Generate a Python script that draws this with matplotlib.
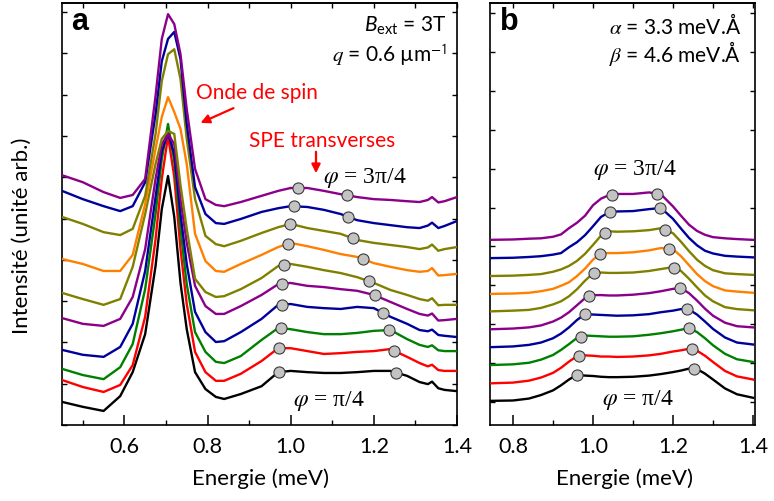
import numpy as np
import matplotlib
matplotlib.use("Agg")
import matplotlib.pyplot as plt
from matplotlib.ticker import MultipleLocator

plt.rcParams['font.family'] = ['Lato', 'DejaVu Sans']
plt.rcParams['mathtext.fontset'] = 'custom'
plt.rcParams['mathtext.rm'] = 'Lato'
plt.rcParams['mathtext.it'] = 'Lato:italic'
plt.rcParams['mathtext.bf'] = 'Lato:bold'

# ---------------- data ----------------
colors = ['#000000', '#ff0000', '#008000', '#00009c', '#8b008b',
          '#808000', '#ff8000', '#808000', '#00009c', '#8b008b']

# panel a: measured spectra (bottom phi = pi/4 ... top phi = 3pi/4), arb. units incl. offset
energy_a = [0.45, 0.50, 0.55, 0.59, 0.62, 0.65, 0.675, 0.69, 0.705, 0.72, 0.735, 0.75,
            0.77, 0.795, 0.82, 0.84, 0.88, 0.93, 0.97, 1.00, 1.04, 1.08, 1.12, 1.16,
            1.20, 1.24, 1.28, 1.31, 1.33, 1.34, 1.355, 1.37, 1.40]
spec_a_black = [0.56, 0.44, 0.34, 0.70, 1.28, 2.20, 3.85, 5.23, 6.03, 5.04, 3.44, 2.32,
                1.28, 0.87, 0.68, 0.63, 0.75, 0.94, 1.28, 1.31, 1.28, 1.26, 1.26, 1.28,
                1.31, 1.31, 1.19, 1.04, 0.99, 1.05, 0.89, 0.85, 0.82]
spec_a_red = [1.09, 0.92, 0.80, 0.97, 1.45, 2.62, 4.50, 5.96, 7.00, 6.01, 4.26, 2.93,
              1.77, 1.28, 1.07, 1.07, 1.24, 1.55, 1.86, 1.86, 1.79, 1.72, 1.74, 1.77,
              1.79, 1.84, 1.65, 1.50, 1.42, 1.46, 1.33, 1.31, 1.31]
spec_a_green = [1.36, 1.21, 1.11, 1.40, 1.96, 3.29, 5.11, 6.44, 7.29, 6.39, 4.75, 3.41,
                2.25, 1.77, 1.53, 1.50, 1.67, 2.06, 2.35, 2.32, 2.25, 2.20, 2.20, 2.23,
                2.28, 2.30, 2.08, 1.94, 1.89, 1.93, 1.81, 1.79, 1.79]
spec_a_blue = [1.82, 1.70, 1.65, 1.89, 2.45, 3.73, 5.52, 6.63, 7.07, 6.56, 5.11, 3.90,
               2.74, 2.25, 2.01, 2.03, 2.25, 2.57, 2.91, 2.93, 2.86, 2.83, 2.81, 2.86,
               2.83, 2.62, 2.45, 2.30, 2.27, 2.31, 2.18, 2.16, 2.13]
spec_a_purple = [2.59, 2.45, 2.40, 2.57, 3.10, 4.26, 5.96, 6.80, 7.05, 6.80, 5.47, 4.41,
                 3.37, 2.88, 2.69, 2.69, 2.88, 3.15, 3.41, 3.44, 3.37, 3.34, 3.29, 3.25,
                 3.15, 2.98, 2.81, 2.69, 2.65, 2.70, 2.53, 2.54, 2.57]
spec_a_olive = [3.20, 3.05, 2.91, 3.05, 3.83, 5.11, 6.32, 6.93, 7.12, 7.05, 5.81, 4.75,
                3.54, 3.22, 3.10, 3.12, 3.29, 3.56, 3.85, 3.90, 3.83, 3.75, 3.68, 3.58,
                3.44, 3.27, 3.15, 3.05, 3.01, 3.07, 2.90, 2.91, 2.91]
spec_a_orange = [4.02, 3.90, 3.73, 3.73, 4.12, 5.35, 6.68, 7.46, 7.94, 7.58, 7.17, 6.32,
                 4.63, 3.97, 3.73, 3.71, 3.90, 4.12, 4.31, 4.41, 4.33, 4.24, 4.14, 4.07,
                 3.92, 3.83, 3.75, 3.71, 3.73, 3.80, 3.62, 3.63, 3.66]
spec_a_olive2 = [5.04, 4.87, 4.67, 4.60, 4.75, 5.55, 7.05, 8.33, 8.98, 9.10, 8.38, 6.93,
                 5.47, 4.58, 4.38, 4.33, 4.46, 4.65, 4.79, 4.87, 4.77, 4.70, 4.63, 4.48,
                 4.41, 4.36, 4.31, 4.26, 4.30, 4.37, 4.22, 4.26, 4.31]
spec_a_blue2 = [5.67, 5.47, 5.30, 5.18, 5.30, 5.88, 7.53, 8.81, 9.35, 9.52, 8.86, 7.29,
                5.76, 5.11, 4.89, 4.87, 4.99, 5.16, 5.25, 5.30, 5.28, 5.21, 5.11, 4.96,
                4.89, 4.84, 4.79, 4.77, 4.83, 4.90, 4.77, 4.82, 4.94]
spec_a_purple2 = [6.05, 5.88, 5.64, 5.50, 5.57, 5.96, 7.97, 9.35, 9.95, 9.71, 8.98, 7.65,
                  6.20, 5.47, 5.33, 5.30, 5.40, 5.55, 5.67, 5.74, 5.74, 5.67, 5.59, 5.52,
                  5.47, 5.45, 5.42, 5.40, 5.45, 5.52, 5.39, 5.42, 5.52]
spectra_a = [spec_a_black, spec_a_red, spec_a_green, spec_a_blue, spec_a_purple,
             spec_a_olive, spec_a_orange, spec_a_olive2, spec_a_blue2, spec_a_purple2]
spe_low_a = [0.972, 0.972, 0.977, 0.979, 0.979, 0.984, 0.994, 0.998, 1.008, 1.018]
spe_high_a = [1.253, 1.248, 1.236, 1.222, 1.203, 1.188, 1.174, 1.150, 1.138, 1.135]

# panel b: calculated spectra
energy_b = [0.74, 0.80, 0.84, 0.87, 0.90, 0.92, 0.94, 0.96, 0.98, 1.00, 1.02, 1.04, 1.06,
            1.10, 1.14, 1.17, 1.20, 1.22, 1.24, 1.26, 1.28, 1.30, 1.33, 1.36, 1.40]
spec_b_black = [0.03, 0.04, 0.09, 0.18, 0.30, 0.43, 0.58, 0.70, 0.68, 0.67, 0.65, 0.64, 0.64,
                0.65, 0.68, 0.72, 0.77, 0.81, 0.86, 0.85, 0.73, 0.58, 0.35, 0.20, 0.11]
spec_b_red = [0.48, 0.50, 0.55, 0.63, 0.75, 0.88, 1.04, 1.18, 1.20, 1.19, 1.17, 1.17, 1.16,
              1.17, 1.20, 1.24, 1.30, 1.33, 1.37, 1.32, 1.19, 1.03, 0.80, 0.66, 0.58]
spec_b_green = [0.95, 0.97, 1.01, 1.09, 1.21, 1.34, 1.49, 1.65, 1.71, 1.70, 1.69, 1.68, 1.68,
                1.69, 1.73, 1.77, 1.82, 1.86, 1.90, 1.80, 1.64, 1.46, 1.24, 1.10, 1.03]
spec_b_blue = [1.41, 1.43, 1.47, 1.53, 1.64, 1.76, 1.92, 2.11, 2.26, 2.25, 2.24, 2.23, 2.22,
               2.23, 2.26, 2.31, 2.35, 2.39, 2.38, 2.25, 2.07, 1.88, 1.66, 1.53, 1.48]
spec_b_purple = [1.87, 1.89, 1.92, 1.97, 2.07, 2.17, 2.31, 2.49, 2.67, 2.75, 2.75, 2.74, 2.74,
                 2.76, 2.80, 2.85, 2.91, 2.93, 2.80, 2.61, 2.40, 2.22, 2.04, 1.95, 1.92]
spec_b_olive = [2.33, 2.35, 2.37, 2.42, 2.51, 2.59, 2.72, 2.90, 3.12, 3.31, 3.33, 3.32, 3.32,
                3.33, 3.37, 3.42, 3.47, 3.37, 3.17, 2.95, 2.74, 2.59, 2.44, 2.39, 2.36]
spec_b_orange = [2.78, 2.79, 2.81, 2.85, 2.91, 2.99, 3.08, 3.24, 3.43, 3.66, 3.83, 3.83, 3.83,
                 3.85, 3.90, 3.96, 3.93, 3.75, 3.52, 3.29, 3.11, 2.98, 2.87, 2.84, 2.81]
spec_b_olive2 = [3.24, 3.25, 3.27, 3.29, 3.35, 3.41, 3.50, 3.63, 3.81, 4.04, 4.28, 4.39, 4.38,
                 4.39, 4.42, 4.47, 4.34, 4.12, 3.88, 3.66, 3.50, 3.39, 3.31, 3.29, 3.27]
spec_b_blue2 = [3.70, 3.71, 3.73, 3.75, 3.79, 3.83, 3.98, 4.11, 4.29, 4.52, 4.76, 4.88, 4.90,
                4.91, 4.96, 4.99, 4.71, 4.46, 4.22, 4.03, 3.89, 3.82, 3.76, 3.74, 3.72]
spec_b_purple2 = [4.17, 4.18, 4.20, 4.21, 4.25, 4.31, 4.47, 4.61, 4.79, 5.06, 5.23, 5.32, 5.35,
                  5.35, 5.39, 5.34, 5.03, 4.79, 4.56, 4.40, 4.30, 4.24, 4.21, 4.19, 4.17]
spectra_b = [spec_b_black, spec_b_red, spec_b_green, spec_b_blue, spec_b_purple,
             spec_b_olive, spec_b_orange, spec_b_olive2, spec_b_blue2, spec_b_purple2]
spe_low_b = [0.959, 0.965, 0.970, 0.980, 0.991, 1.003, 1.017, 1.031, 1.042, 1.047]
spe_high_b = [1.252, 1.247, 1.241, 1.234, 1.217, 1.203, 1.190, 1.179, 1.167, 1.159]

xticks_a = [0.6, 0.8, 1.0, 1.2, 1.4]
xticks_b = [0.8, 1.0, 1.2, 1.4]

# ---------------- figure ----------------
W, H = 774, 502
fig = plt.figure(figsize=(W / 100, H / 100), dpi=100)
axA = fig.add_axes([62 / W, 76 / H, 395 / W, 422 / H])
axB = fig.add_axes([490 / W, 76 / H, 265 / W, 422 / H])

dot_kw = dict(linestyle='none', marker='o', ms=8, mfc='#c3c3c3', mec='#3a3a3a', mew=0.8, zorder=5)

for spec, c, xl, xh in zip(spectra_a, colors, spe_low_a, spe_high_a):
    axA.plot(energy_a, spec, color=c, lw=1.7, zorder=3)
    xs = [xl, xh]
    axA.plot(xs, np.interp(xs, energy_a, spec), **dot_kw)

for spec, c, xl, xh in zip(spectra_b, colors, spe_low_b, spe_high_b):
    axB.plot(energy_b, spec, color=c, lw=1.7, zorder=3)
    xs = [xl, xh]
    axB.plot(xs, np.interp(xs, energy_b, spec), **dot_kw)

axA.set_xlim(0.45, 1.40)
axA.set_ylim(0, 10.22)
axB.set_xlim(0.7425, 1.405)
axB.set_ylim(-0.59, 10.26)

for ax, xt in ((axA, xticks_a), (axB, xticks_b)):
    ax.set_xticks(xt)
    ax.xaxis.set_minor_locator(MultipleLocator(0.1))
    ax.yaxis.set_major_locator(MultipleLocator(1))
    ax.tick_params(axis='x', which='major', direction='in', length=7, width=1.1,
                   labelsize=15.5, pad=8, top=False)
    ax.tick_params(axis='x', which='minor', direction='in', length=3.5, width=1.0, top=False)
    ax.tick_params(axis='y', which='major', direction='in', length=3.5, width=1.0,
                   left=True, right=True, labelleft=False)
    ax.xaxis.set_major_formatter(matplotlib.ticker.FormatStrFormatter('%.1f'))
    for s in ax.spines.values():
        s.set_linewidth(1.2)
    sec = ax.secondary_xaxis('top')
    sec.xaxis.set_major_locator(MultipleLocator(0.1))
    sec.tick_params(axis='x', which='both', direction='in', length=3.5, width=1.0, labeltop=False)
    sec.spines['top'].set_linewidth(1.2)

def fa(px):
    return (px - 62) / 395

def fb(px):
    return (px - 490) / 265

def fy(py):
    return (426 - py) / 422

# panel a annotations
axA.text(fa(71), fy(22), 'a', transform=axA.transAxes, ha='left', va='center',
         fontsize=22, fontweight='bold', family=['Liberation Sans', 'DejaVu Sans'])
axA.text(fa(446), fy(26), r'$B_{\rm ext}$ = 3T', transform=axA.transAxes,
         ha='right', va='center', fontsize=15)
axA.text(fa(447), fy(55), r'$q$ = 0.6 µm$^{\mathsf{-1}}$', transform=axA.transAxes,
         ha='right', va='center', fontsize=15, math_fontfamily='stix')
axA.text(fa(196), fy(93), 'Onde de spin', transform=axA.transAxes, ha='left', va='center',
         fontsize=15, color='red')
axA.annotate('', xy=(fa(198), fy(125)), xytext=(fa(236), fy(108)),
             xycoords='axes fraction', textcoords='axes fraction',
             arrowprops=dict(arrowstyle='-|>', color='red', lw=1.6, mutation_scale=13))
axA.text(fa(249), fy(141), 'SPE transverses', transform=axA.transAxes, ha='left',
         va='center', fontsize=15, color='red')
axA.annotate('', xy=(fa(316), fy(177)), xytext=(fa(316), fy(150)),
             xycoords='axes fraction', textcoords='axes fraction',
             arrowprops=dict(arrowstyle='-|>', color='red', lw=1.6, mutation_scale=13))
axA.text(fa(323), fy(178), r'$\varphi$ = 3π/4', transform=axA.transAxes, ha='left',
         va='center', fontsize=17, family=['Liberation Serif', 'DejaVu Serif'],
         math_fontfamily='stix')
axA.text(fa(293), fy(401), r'$\varphi$ = π/4', transform=axA.transAxes, ha='left',
         va='center', fontsize=17, family=['Liberation Serif', 'DejaVu Serif'],
         math_fontfamily='stix')

# panel b annotations
axB.text(fb(500), fy(22), 'b', transform=axB.transAxes, ha='left', va='center',
         fontsize=22, fontweight='bold', family=['Liberation Sans', 'DejaVu Sans'])
axB.text(fb(741), fy(25), r'$\alpha$ = 3.3 meV.Å', transform=axB.transAxes, ha='right',
         va='center', fontsize=15, math_fontfamily='stix')
axB.text(fb(741), fy(53), r'$\beta$ = 4.6 meV.Å', transform=axB.transAxes, ha='right',
         va='center', fontsize=15, math_fontfamily='stix')
axB.text(fb(593), fy(170), r'$\varphi$ = 3π/4', transform=axB.transAxes, ha='left',
         va='center', fontsize=17, family=['Liberation Serif', 'DejaVu Serif'],
         math_fontfamily='stix')
axB.text(fb(602), fy(400), r'$\varphi$ = π/4', transform=axB.transAxes, ha='left',
         va='center', fontsize=17, family=['Liberation Serif', 'DejaVu Serif'],
         math_fontfamily='stix')

fig.text(260 / W, 1 - 479 / H, 'Energie (meV)', ha='center', va='center', fontsize=16)
fig.text(624 / W, 1 - 479 / H, 'Energie (meV)', ha='center', va='center', fontsize=16)
fig.text(22 / W, 1 - 236 / H, 'Intensité (unité arb.)', rotation=90, ha='center',
         va='center', fontsize=16)

fig.savefig('out.png', dpi=100)
